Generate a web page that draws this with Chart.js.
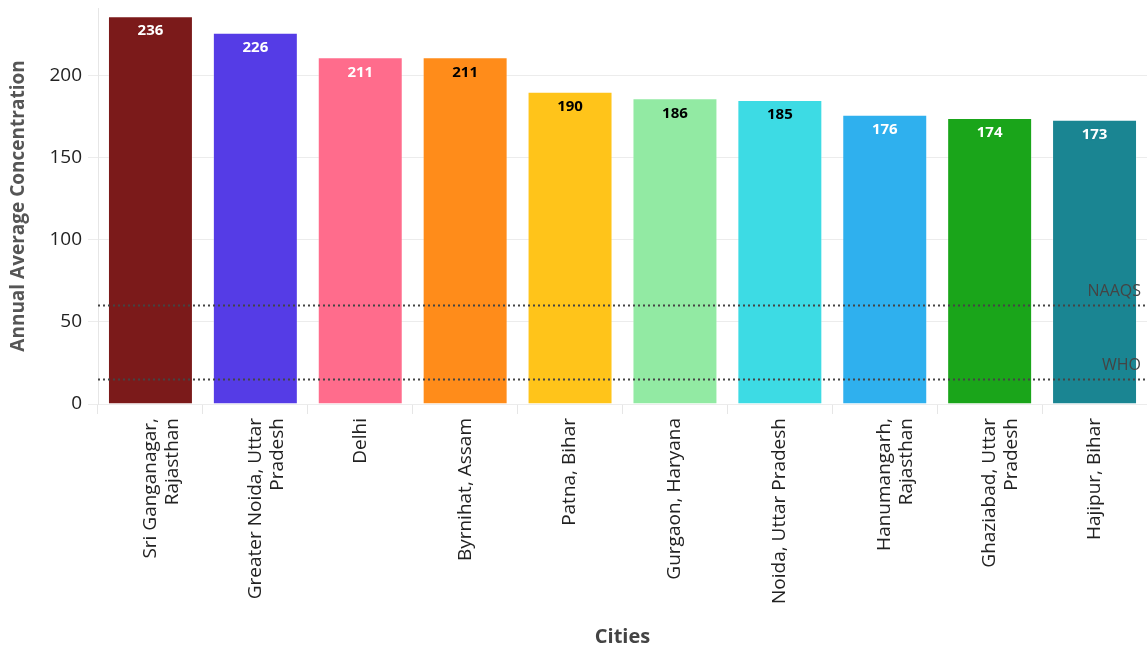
<!DOCTYPE html>
<html>
<head>
<meta charset="utf-8">
<script src="https://cdn.jsdelivr.net/npm/chart.js@4"></script>
<style>
  html, body { margin: 0; padding: 0; background: #fff; }
  #wrap { width: 1147px; height: 654px; }
</style>
</head>
<body>
<div id="wrap"><canvas id="chart"></canvas></div>
<script>
const cities = [
    ['Sri Ganganagar,', 'Rajasthan'],
    ['Greater Noida, Uttar', 'Pradesh'],
    'Delhi',
    'Byrnihat, Assam',
    'Patna, Bihar',
    'Gurgaon, Haryana',
    'Noida, Uttar Pradesh',
    ['Hanumangarh,', 'Rajasthan'],
    ['Ghaziabad, Uttar', 'Pradesh'],
    'Hajipur, Bihar'
];
const concentration = [236, 226, 211, 211, 190, 186, 185, 176, 174, 173];
const barColors = ['#7b1a1a', '#553ce6', '#ff6c8c', '#ff8c1a', '#ffc41a', '#92eaa3', '#3ddbe4', '#2fb0ee', '#1aa51a', '#1a8592'];
const labelColors = ['#fff', '#fff', '#fff', '#000', '#000', '#000', '#000', '#fff', '#fff', '#fff'];
const refNames = ['NAAQS', 'WHO'];
const refValues = [60, 15];
const yTicks = [0, 50, 100, 150, 200];

// value labels inside bars + dotted reference lines
const overlay = {
    id: 'overlay',
    afterDatasetsDraw(chart) {
        const c = chart.ctx;
        const y = chart.scales.y;
        const area = chart.chartArea;
        const bars = chart.getDatasetMeta(0).data;
        c.save();
        c.font = 'bold 15px "Open Sans", sans-serif';
        c.textAlign = 'center';
        c.textBaseline = 'middle';
        c.lineJoin = 'round';
        bars.forEach((b, i) => {
            c.lineWidth = 3;
            c.strokeStyle = barColors[i];
            c.strokeText(concentration[i], b.x, b.y + 15);
            c.fillStyle = labelColors[i];
            c.fillText(concentration[i], b.x, b.y + 15);
        });

        c.setLineDash([2, 3]);
        c.lineWidth = 2;
        c.strokeStyle = '#444';
        c.fillStyle = '#444';
        c.font = '16px "Open Sans", sans-serif';
        c.textAlign = 'right';
        c.textBaseline = 'bottom';
        refValues.forEach((v, i) => {
            const py = Math.round(y.getPixelForValue(v)) + 0.5;
            c.beginPath();
            c.moveTo(area.left, py);
            c.lineTo(area.right, py);
            c.stroke();
            c.fillText(refNames[i], area.right - 6, py - 6);
        });
        c.restore();
    }
};

const ctx = document.getElementById('chart').getContext('2d');
new Chart(ctx, {
    type: 'bar',
    data: {
        labels: cities,
        datasets: [{
            data: concentration,
            backgroundColor: barColors,
            borderColor: 'rgba(255,255,255,0.35)',
            borderWidth: 1,
            categoryPercentage: 0.81,
            barPercentage: 1
        }]
    },
    options: {
        responsive: true,
        maintainAspectRatio: false,
        animation: false,
        layout: { padding: { top: 8, right: 0, left: 0, bottom: 0 } },
        plugins: {
            legend: { display: false },
            tooltip: { enabled: false }
        },
        scales: {
            x: {
                grid: { display: true, drawOnChartArea: false, color: '#e6e6e6', tickLength: 10 },
                border: { display: false },
                ticks: {
                    minRotation: 90,
                    maxRotation: 90,
                    autoSkip: false,
                    color: '#222',
                    padding: 4,
                    font: { family: '"Open Sans", sans-serif', size: 19, lineHeight: 1.15 }
                },
                title: {
                    display: true,
                    text: 'Cities',
                    color: '#444',
                    padding: { top: 0, bottom: 5 },
                    font: { family: '"Open Sans", sans-serif', size: 20, weight: 'bold' }
                },
                afterFit(scale) { scale.height = 250; }
            },
            y: {
                min: 0,
                max: 241,
                afterBuildTicks(scale) { scale.ticks = yTicks.map(v => ({ value: v })); },
                grid: { color: '#ececec', tickLength: 10 },
                border: { display: true, color: '#e6e6e6' },
                ticks: {
                    color: '#222',
                    padding: 6,
                    font: { family: '"Open Sans", sans-serif', size: 19 }
                },
                title: {
                    display: true,
                    text: 'Annual Average Concentration',
                    color: '#555',
                    padding: { top: 7, bottom: 0 },
                    font: { family: '"Open Sans", sans-serif', size: 19, weight: 'bold' }
                },
                afterFit(scale) {
                    scale.width = 98;
                    scale.paddingTop = 0;
                    scale.paddingBottom = 0;
                }
            }
        }
    },
    plugins: [overlay]
});
</script>
</body>
</html>
